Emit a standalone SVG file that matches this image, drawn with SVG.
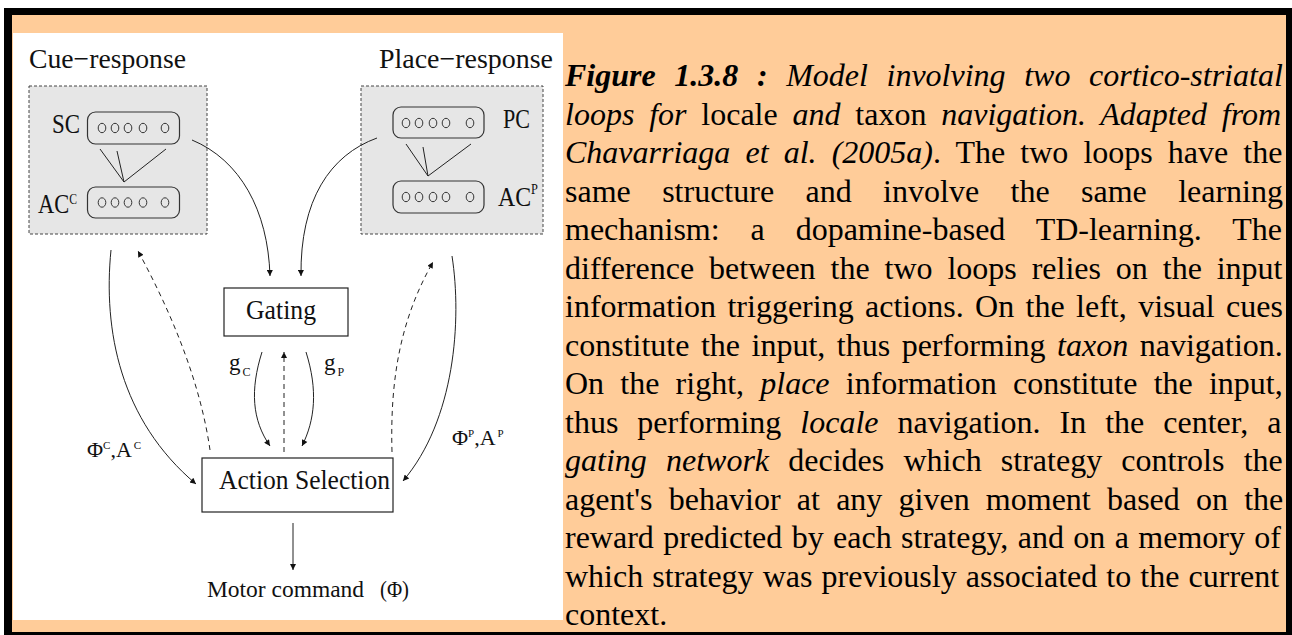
<svg xmlns="http://www.w3.org/2000/svg" width="1292" height="635" viewBox="0 0 1292 635">
<style>
.lbl{font-family:"Liberation Serif","Times New Roman",serif;fill:#111}
.cap{font-family:"Liberation Serif","Times New Roman",serif;font-size:32px;fill:#000}
.it{font-style:italic}
.bi{font-style:italic;font-weight:bold}
.grp{fill:#e6e6e6;stroke:#444;stroke-width:1;stroke-dasharray:3,2}
.layer{fill:none;stroke:#333;stroke-width:1.2}
.cell{fill:none;stroke:#333;stroke-width:1}
.box{fill:#fff;stroke:#222;stroke-width:1.2}
.wire{fill:none;stroke:#222;stroke-width:1}
.conn{fill:none;stroke:#222;stroke-width:1}
.dash{stroke-dasharray:5,4}
</style>
<defs>
<marker id="ah" viewBox="0 0 10 10" refX="10" refY="5" markerWidth="8" markerHeight="6" markerUnits="userSpaceOnUse" orient="auto">
<path d="M0,0 L10,5 L0,10 z" fill="#111"/>
</marker>
</defs>
<rect x="0" y="0" width="1292" height="635" fill="#fff"/>
<rect x="4" y="8" width="1288" height="627" fill="#000"/>
<rect x="12" y="15" width="1274" height="617" fill="#ffcc99"/>
<rect x="13" y="33" width="550" height="587" fill="#fff"/>

<g id="cue-response">
<text class="lbl" x="29" y="68" font-size="28" textLength="157" lengthAdjust="spacingAndGlyphs">Cue−response</text>
<rect class="grp" x="29" y="86" width="178" height="148"/>
<text class="lbl" x="52" y="133" font-size="27" textLength="28" lengthAdjust="spacingAndGlyphs">SC</text>
<rect class="layer" x="87.5" y="112" width="92" height="32" rx="8"/>
<g class="cell"><ellipse cx="102" cy="128" rx="3.8" ry="4.7"/><ellipse cx="115" cy="128" rx="3.8" ry="4.7"/><ellipse cx="128" cy="128" rx="3.8" ry="4.7"/><ellipse cx="143" cy="128" rx="3.8" ry="4.7"/><ellipse cx="165" cy="128" rx="3.8" ry="4.7"/></g>
<path class="wire" d="M100,149 L124,182 M117,151 L124,182 M166,149 L124,182"/>
<text class="lbl" x="38" y="213" font-size="27" textLength="39" lengthAdjust="spacingAndGlyphs">AC<tspan font-size="14" dy="-9">C</tspan></text>
<rect class="layer" x="87.5" y="187" width="92" height="31" rx="8"/>
<g class="cell"><ellipse cx="102" cy="202.5" rx="3.8" ry="4.7"/><ellipse cx="115" cy="202.5" rx="3.8" ry="4.7"/><ellipse cx="128" cy="202.5" rx="3.8" ry="4.7"/><ellipse cx="143" cy="202.5" rx="3.8" ry="4.7"/><ellipse cx="165" cy="202.5" rx="3.8" ry="4.7"/></g>
</g>

<g id="place-response">
<text class="lbl" x="379" y="68" font-size="28" textLength="174" lengthAdjust="spacingAndGlyphs">Place−response</text>
<rect class="grp" x="361" y="86" width="182" height="148"/>
<text class="lbl" x="503" y="128" font-size="27" textLength="27" lengthAdjust="spacingAndGlyphs">PC</text>
<rect class="layer" x="393" y="107" width="91" height="31" rx="8"/>
<g class="cell"><ellipse cx="406" cy="123" rx="3.8" ry="4.7"/><ellipse cx="419" cy="123" rx="3.8" ry="4.7"/><ellipse cx="433" cy="123" rx="3.8" ry="4.7"/><ellipse cx="446" cy="123" rx="3.8" ry="4.7"/><ellipse cx="470" cy="123" rx="3.8" ry="4.7"/></g>
<path class="wire" d="M406,144 L428,176 M423,147 L428,176 M471,144 L428,176"/>
<text class="lbl" x="498" y="206" font-size="27" textLength="40" lengthAdjust="spacingAndGlyphs">AC<tspan font-size="14" dy="-12">P</tspan></text>
<rect class="layer" x="393" y="181" width="91" height="32" rx="8"/>
<g class="cell"><ellipse cx="406" cy="197" rx="3.8" ry="4.7"/><ellipse cx="419" cy="197" rx="3.8" ry="4.7"/><ellipse cx="433" cy="197" rx="3.8" ry="4.7"/><ellipse cx="446" cy="197" rx="3.8" ry="4.7"/><ellipse cx="470" cy="197" rx="3.8" ry="4.7"/></g>
</g>

<g id="gating">
<rect class="box" x="224" y="288" width="124" height="48"/>
<text class="lbl" x="246" y="319" font-size="28" textLength="70" lengthAdjust="spacingAndGlyphs">Gating</text>
</g>

<g id="action-selection">
<rect class="box" x="202" y="458" width="191" height="54"/>
<text class="lbl" x="219" y="489" font-size="28" textLength="171" lengthAdjust="spacingAndGlyphs">Action Selection</text>
</g>

<g id="motor-command">
<text class="lbl" x="207" y="597" font-size="24" textLength="157" lengthAdjust="spacingAndGlyphs">Motor command</text>
<text class="lbl" x="380" y="597" font-size="24" textLength="29" lengthAdjust="spacingAndGlyphs">(Φ)</text>
</g>

<g id="connectors">
<path class="conn" d="M192,140 C240,160 268,210 270,276" marker-end="url(#ah)"/>
<path class="conn" d="M377,138 C330,155 300,200 301,276" marker-end="url(#ah)"/>
<path class="conn" d="M111,250 C103,330 120,420 196,484" marker-end="url(#ah)"/>
<path class="conn dash" d="M210,450 C200,380 170,310 138,251" marker-end="url(#ah)"/>
<path class="conn" d="M452,256 C462,320 455,420 403,481" marker-end="url(#ah)"/>
<path class="conn dash" d="M392,452 C390,380 400,320 433,262" marker-end="url(#ah)"/>
<path class="conn" d="M262,352 C250,390 252,420 270,446" marker-end="url(#ah)"/>
<path class="conn" d="M306,352 C318,390 315,420 302,446" marker-end="url(#ah)"/>
<path class="conn dash" d="M284,452 L284,352" marker-end="url(#ah)"/>
<path class="conn" d="M293,523 L293,570" marker-end="url(#ah)"/>
</g>

<g id="connector-labels">
<text class="lbl" x="229" y="370" font-size="23">g<tspan font-size="12" dx="2" dy="6">C</tspan></text>
<text class="lbl" x="324" y="370" font-size="23">g<tspan font-size="12" dx="2" dy="6">P</tspan></text>
<text class="lbl" x="87" y="457" font-size="22">Φ<tspan font-size="11" dy="-8">C</tspan><tspan dy="8">,A</tspan><tspan font-size="11" dx="2" dy="-8">C</tspan></text>
<text class="lbl" x="452" y="445" font-size="22">Φ<tspan font-size="11" dy="-8">P</tspan><tspan dy="8">,A</tspan><tspan font-size="11" dx="2" dy="-8">P</tspan></text>
</g>

<g id="caption">
<text class="cap" x="565" y="86" word-spacing="10.6"><tspan class="bi">Figure 1.3.8 :</tspan><tspan class="it"> Model involving two cortico-striatal</tspan></text>
<text class="cap" x="565" y="124.5" word-spacing="6.8"><tspan class="it">loops for</tspan> locale <tspan class="it">and</tspan> taxon <tspan class="it">navigation. Adapted from</tspan></text>
<text class="cap" x="565" y="163" word-spacing="7.1"><tspan class="it">Chavarriaga et al. (2005a)</tspan>. The two loops have the</text>
<text class="cap" x="565" y="201.5" word-spacing="23.4">same structure and involve the same learning</text>
<text class="cap" x="565" y="240" word-spacing="22.9">mechanism: a dopamine-based TD-learning. The</text>
<text class="cap" x="565" y="278.5" word-spacing="6.9">difference between the two loops relies on the input</text>
<text class="cap" x="565" y="317" word-spacing="3.4">information triggering actions. On the left, visual cues</text>
<text class="cap" x="565" y="355.5" word-spacing="3.5">constitute the input, thus performing <tspan class="it">taxon</tspan> navigation.</text>
<text class="cap" x="565" y="394" word-spacing="8.2">On the right, <tspan class="it">place</tspan> information constitute the input,</text>
<text class="cap" x="565" y="432.5" word-spacing="11">thus performing <tspan class="it">locale</tspan> navigation. In the center, a</text>
<text class="cap" x="565" y="471" word-spacing="11.2"><tspan class="it">gating network</tspan> decides which strategy controls the</text>
<text class="cap" x="565" y="509.5" word-spacing="8.2">agent's behavior at any given moment based on the</text>
<text class="cap" x="565" y="548" word-spacing="1.4">reward predicted by each strategy, and on a memory of</text>
<text class="cap" x="565" y="586.5" word-spacing="1.1">which strategy was previously associated to the current</text>
<text class="cap" x="565" y="625">context.</text>
</g>
</svg>
